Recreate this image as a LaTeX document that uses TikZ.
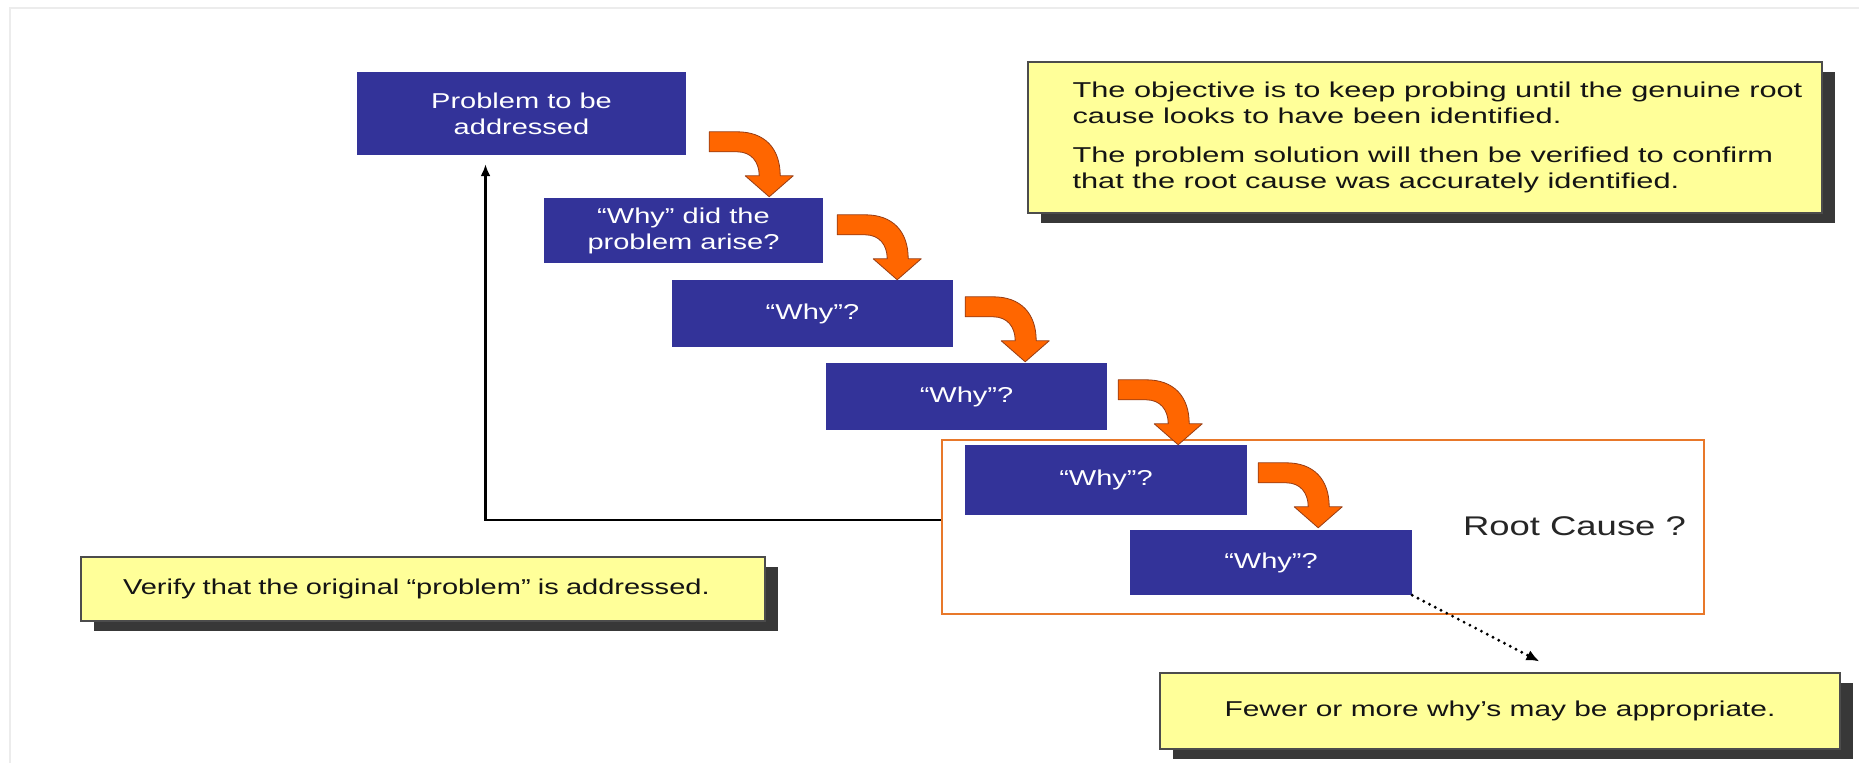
\documentclass[tikz,border=0pt]{standalone}
\usepackage{fontspec}
\setmainfont[FakeStretch=1.35]{Liberation Sans}
\newfontfamily\widenote[FakeStretch=1.43]{Liberation Sans}
\newfontfamily\midnote[FakeStretch=1.39]{Liberation Sans}
\usetikzlibrary{calc,arrows.meta,shadows}
\definecolor{boxblue}{RGB}{51,51,153}
\definecolor{noteyellow}{RGB}{255,255,153}
\definecolor{arroworange}{RGB}{255,102,0}
\definecolor{arrowedge}{RGB}{150,60,20}
\definecolor{framegray}{RGB}{236,236,236}
\definecolor{rootorange}{RGB}{232,120,42}
\begin{document}
\begin{tikzpicture}[x=1pt,y=-1pt,
  whybox/.style={fill=boxblue, text=white, inner sep=0pt, align=center,
    font=\fontsize{21.5}{26}\selectfont},
  notebox/.style={fill=noteyellow, draw=black!70, line width=1.2pt, inner sep=0pt,
    text=black!92, font=\fontsize{21.5}{26}\selectfont,
    general shadow={shadow xshift=13pt, shadow yshift=-10pt, fill=black!78}},
  bend/.pic={
    \draw[fill=arroworange, draw=arrowedge, line width=0.8pt, line join=round]
      (0,0) -- (28,0) .. controls (55,0) and (71,16) .. (71,44)
      -- (84,44) -- (60,65) -- (36,44) -- (50,44)
      .. controls (50,30) and (42,20) .. (28,20) -- (0,20) -- cycle;
  }]
  \useasboundingbox (0,0) rectangle (1859,763);
  \fill[white] (0,0) rectangle (1859,763);
  % faint slide frame
  \draw[framegray, line width=1.5pt] (10,763) -- (10,8) -- (1859,8);

  % chain of question boxes
  \node[whybox, minimum width=329pt, minimum height=83pt] (b1) at (521.5,113.5) {Problem to be\\addressed};
  \node[whybox, minimum width=279pt, minimum height=65pt] (b2) at (683.5,230.5) {“Why” did the\\problem arise?};
  \node[whybox, minimum width=281pt, minimum height=67pt] (b3) at (812.5,313.5) {“Why”?};
  \node[whybox, minimum width=281pt, minimum height=67pt] (b4) at (966.5,396.5) {“Why”?};
  \node[whybox, minimum width=282pt, minimum height=70pt] (b5) at (1106,480) {“Why”?};
  \node[whybox, minimum width=282pt, minimum height=65pt] (b6) at (1271,562.5) {“Why”?};

  % root cause frame
  \node[draw=rootorange, line width=2.8pt, minimum width=762pt, minimum height=174pt, inner sep=0pt]
    (rootbox) at (1323,527) {};
  \node[text=black!85, font=\fontsize{27}{32}\selectfont, inner sep=0pt] (rootlbl) at (1574.5,526) {Root Cause ?};

  % bent arrows from each box down to the next
  \pic at ($(b1.north east)+(23,60)$) {bend};
  \pic at ($(b2.north east)+(14,17)$) {bend};
  \pic at ($(b3.north east)+(12,17)$) {bend};
  \pic at ($(b4.north east)+(11,17)$) {bend};
  \pic at ($(b5.north east)+(11,18)$) {bend};

  % notes
  \node[notebox, minimum width=794pt, minimum height=151pt,
        font=\widenote\fontsize{21.5}{26}\selectfont]
    (y1) at (1425,137.5)
    {\hspace*{25pt}\begin{tabular}{@{}l@{}}
       The objective is to keep probing until the genuine root\\
       cause looks to have been identified.\\[13pt]
       The problem solution will then be verified to confirm\\
       that the root cause was accurately identified.
     \end{tabular}};
  \node[notebox, minimum width=684pt, minimum height=64pt, text width=600pt, align=left]
    (y2) at (423,589) {Verify that the original “problem” is addressed.};
  \node[notebox, minimum width=680pt, minimum height=76pt, align=center,
        font=\midnote\fontsize{21.5}{26}\selectfont]
    (y3) at (1500,711) {Fewer or more why’s may be appropriate.};

  % feedback to the original problem
  \draw[line width=2.6pt, -{Latex[length=12pt,width=10pt]}]
    ([yshift=7pt]rootbox.west) -| ($(b1.south)+(-36,9)$);

  % more or fewer steps
  \coordinate (dotend) at ($(y3.north west)+(380,-11)$);
  \draw[line width=3.2pt, line cap=round, dash pattern=on 0pt off 6.5pt,
        -{Latex[length=13pt,width=11pt]}] (b6.south east) -- (dotend);
\end{tikzpicture}
\end{document}
